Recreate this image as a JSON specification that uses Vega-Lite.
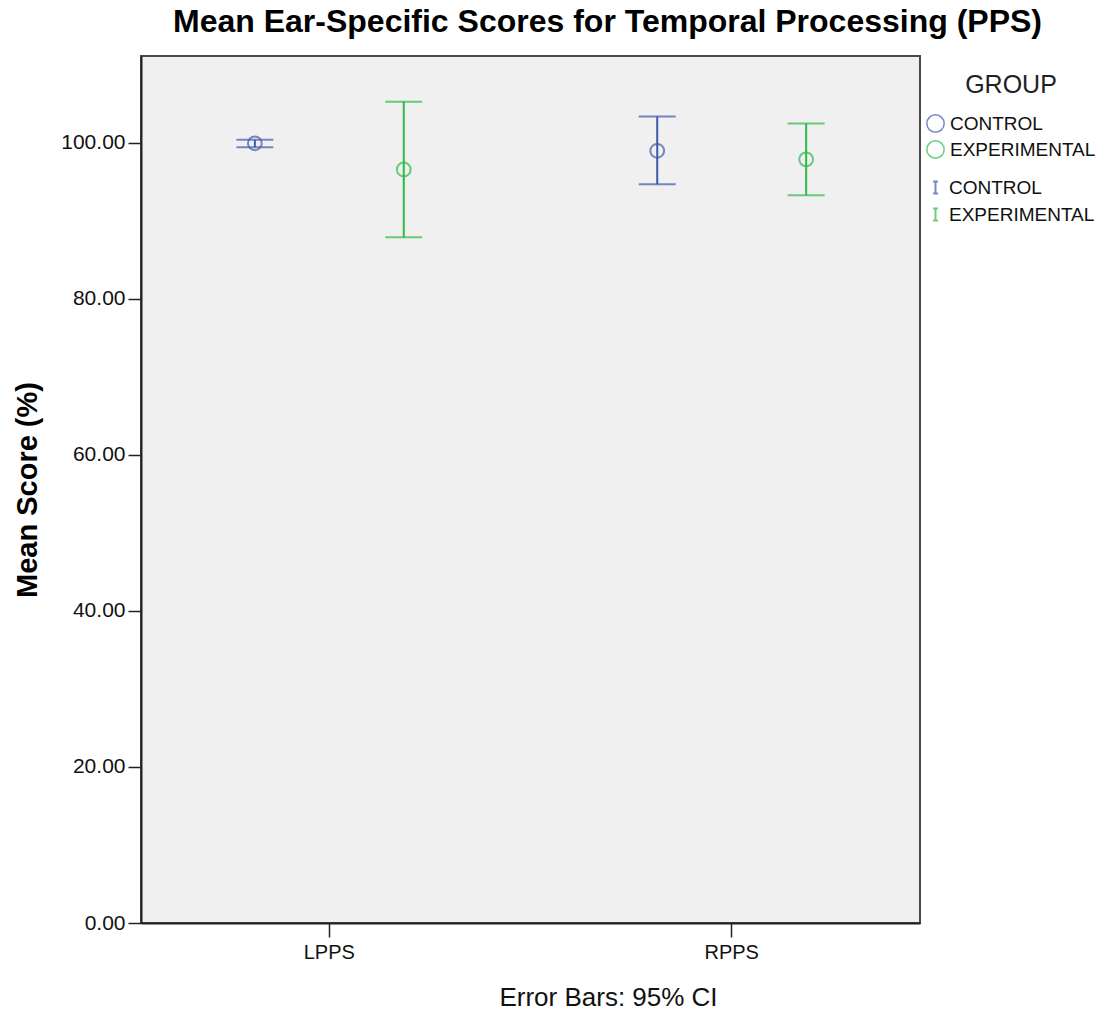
{
  "$schema": "https://vega.github.io/schema/vega-lite/v6.json",
  "width": 779,
  "height": 867,
  "autosize": {"type": "none"},
  "padding": {"left": 141, "top": 56, "right": 183, "bottom": 104},
  "background": "white",
  "config": {
    "font": "Liberation Sans",
    "view": {"fill": "#F0F0F0", "stroke": "#4a4a4a", "strokeWidth": 2}
  },
  "title": {
    "text": "Mean Ear-Specific Scores for Temporal Processing (PPS)",
    "fontSize": 32,
    "fontWeight": "bold",
    "color": "black",
    "anchor": "middle",
    "frame": "group",
    "dx": 77,
    "offset": 17
  },
  "data": {
    "values": [
      {"measure": "LPPS", "group": "CONTROL", "mean": 99.96, "lower": 99.45, "upper": 100.4},
      {"measure": "LPPS", "group": "EXPERIMENTAL", "mean": 96.6, "lower": 87.9, "upper": 105.3},
      {"measure": "RPPS", "group": "CONTROL", "mean": 99.0, "lower": 94.7, "upper": 103.4},
      {"measure": "RPPS", "group": "EXPERIMENTAL", "mean": 97.9, "lower": 93.3, "upper": 102.5}
    ]
  },
  "encoding": {
    "x": {
      "field": "measure",
      "type": "nominal",
      "scale": {"type": "band", "domain": ["LPPS", "RPPS"], "paddingInner": 0.5, "paddingOuter": 0.218, "align": 0.5},
      "axis": {
        "labelAngle": 0,
        "labelFontSize": 20,
        "labelColor": "#111",
        "labelPadding": 5,
        "tickSize": 14,
        "tickColor": "#222",
        "tickWidth": 1.5,
        "domainColor": "#222",
        "domainWidth": 2,
        "title": "Error Bars: 95% CI",
        "titleFontSize": 26,
        "titleFontWeight": "normal",
        "titleColor": "#111",
        "titleX": 467,
        "titleY": 74,
        "titleBaseline": "middle",
        "titleAlign": "center"
      }
    },
    "xOffset": {
      "field": "group",
      "type": "nominal",
      "scale": {"domain": ["CONTROL", "EXPERIMENTAL"], "paddingInner": 0.649, "paddingOuter": 0}
    }
  },
  "layer": [
    {
      "mark": {"type": "rule", "strokeWidth": 2},
      "encoding": {
        "y": {
          "field": "lower",
          "type": "quantitative",
          "title": "Mean Score (%)",
          "scale": {"domain": [0, 111.15], "nice": false, "zero": true},
          "axis": {
            "values": [0, 20, 40, 60, 80, 100],
            "format": ".2f",
            "grid": false,
            "labelFontSize": 21,
            "labelColor": "#111",
            "labelPadding": 3,
            "tickSize": 13,
            "tickColor": "#222",
            "tickWidth": 1.5,
            "domainColor": "#222",
            "domainWidth": 2,
            "titleFontSize": 29,
            "titleFontWeight": "bold",
            "titleColor": "black",
            "titleX": -114,
            "titleY": 433.5,
            "titleAlign": "center",
            "titleBaseline": "middle",
            "titleAngle": -90
          }
        },
        "y2": {"field": "upper"},
        "color": {
          "field": "group",
          "type": "nominal",
          "scale": {"domain": ["CONTROL", "EXPERIMENTAL"], "range": ["#3E58AC", "#2EB848"]},
          "legend": {
            "title": null,
            "orient": "none",
            "legendX": 785,
            "legendY": 122,
            "symbolType": "M-0.4,-1H0.4M0,-1V1M-0.4,1H0.4",
            "symbolSize": 150,
            "symbolStrokeWidth": 2,
            "labelFontSize": 19,
            "labelColor": "#111",
            "labelOffset": 4,
            "rowPadding": 6,
            "padding": 0
          }
        }
      }
    },
    {
      "mark": {"type": "tick", "orient": "horizontal", "size": 37, "thickness": 2},
      "encoding": {
        "y": {"field": "lower", "type": "quantitative", "title": "Mean Score (%)"},
        "color": {"field": "group", "type": "nominal"}
      }
    },
    {
      "mark": {"type": "tick", "orient": "horizontal", "size": 37, "thickness": 2},
      "encoding": {
        "y": {"field": "upper", "type": "quantitative", "title": "Mean Score (%)"},
        "color": {"field": "group", "type": "nominal"}
      }
    },
    {
      "mark": {"type": "point", "shape": "circle", "filled": false, "size": 190, "strokeWidth": 2, "fill": "transparent"},
      "encoding": {
        "y": {"field": "mean", "type": "quantitative", "title": "Mean Score (%)"},
        "stroke": {
          "field": "group",
          "type": "nominal",
          "scale": {"domain": ["CONTROL", "EXPERIMENTAL"], "range": ["#3E58AC", "#2EB848"]},
          "legend": {
            "title": "GROUP",
            "titleFontSize": 25,
            "titleFontWeight": "normal",
            "titleColor": "#222",
            "titleAnchor": "middle",
            "titlePadding": 16,
            "orient": "right",
            "offset": -11,
            "padding": 17,
            "symbolType": "circle",
            "symbolSize": 300,
            "symbolStrokeWidth": 1.5,
            "symbolFillColor": "transparent",
            "labelFontSize": 19,
            "labelColor": "#111",
            "labelOffset": 5,
            "rowPadding": 1
          }
        }
      }
    }
  ]
}
